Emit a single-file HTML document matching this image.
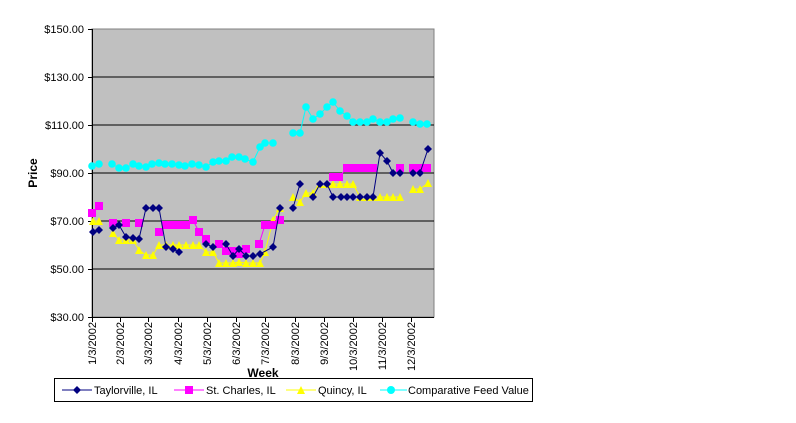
<!DOCTYPE html>
<html><head><meta charset="utf-8"><style>
body{margin:0;background:#fff;}
svg{display:block;font-family:"Liberation Sans",Arial,sans-serif;}
</style></head><body>
<svg id="s" width="796" height="423" xmlns="http://www.w3.org/2000/svg">
<rect x="92" y="29" width="342" height="288" fill="#c0c0c0" stroke="#808080"/>
<g stroke="#000" stroke-width="1">
<line x1="92" y1="77" x2="434" y2="77"/><line x1="92" y1="125" x2="434" y2="125"/>
<line x1="92" y1="173" x2="434" y2="173"/><line x1="92" y1="221" x2="434" y2="221"/>
<line x1="92" y1="269" x2="434" y2="269"/>
<line x1="92.5" y1="29" x2="92.5" y2="318"/><line x1="92" y1="317.5" x2="434" y2="317.5"/>
<line x1="88" y1="29.5" x2="92" y2="29.5"/><line x1="88" y1="77.5" x2="92" y2="77.5"/><line x1="88" y1="125.5" x2="92" y2="125.5"/><line x1="88" y1="173.5" x2="92" y2="173.5"/><line x1="88" y1="221.5" x2="92" y2="221.5"/><line x1="88" y1="269.5" x2="92" y2="269.5"/><line x1="88" y1="317.5" x2="92" y2="317.5"/>
</g>
<g font-size="11" text-anchor="end" fill="#000">
<text x="84" y="33">$150.00</text><text x="84" y="81">$130.00</text><text x="84" y="129">$110.00</text><text x="84" y="177">$90.00</text><text x="84" y="225">$70.00</text><text x="84" y="273">$50.00</text><text x="84" y="321">$30.00</text>
</g>
<text x="37" y="173" font-size="12" font-weight="bold" text-anchor="middle" transform="rotate(-90 37 173)">Price</text>
<text x="263" y="377" font-size="12" font-weight="bold" text-anchor="middle">Week</text>
<g id="xt" font-size="11" text-anchor="end"></g>
<g id="series"></g>
<rect x="54.5" y="378.5" width="478" height="23" fill="#fff" stroke="#000"/>
<g font-size="11">
<line x1="62" y1="390" x2="92" y2="390" stroke="#000080"/><polygon points="77,386 81,390 77,394 73,390" fill="#000080"/>
<text x="94" y="394">Taylorville, IL</text>
<line x1="174" y1="390" x2="204" y2="390" stroke="#ff00ff"/><rect x="185" y="386" width="8" height="8" fill="#ff00ff"/>
<text x="206" y="394">St. Charles, IL</text>
<line x1="286" y1="390" x2="316" y2="390" stroke="#ffff00"/><polygon points="301,386 305,394 297,394" fill="#ffff00"/>
<text x="318" y="394">Quincy, IL</text>
<line x1="380" y1="390" x2="407" y2="390" stroke="#00ffff"/><circle cx="391" cy="390" r="4" fill="#00ffff"/>
<text x="408" y="394">Comparative Feed Value</text>
</g>
</svg>
<script>
var NS="http://www.w3.org/2000/svg",s=document.getElementById("series"),xt=document.getElementById("xt");
var ticks=[92,120,148,178,207,236,265,295,324,353,382,411],labs=["1/3/2002","2/3/2002","3/3/2002","4/3/2002","5/3/2002","6/3/2002","7/3/2002","8/3/2002","9/3/2002","10/3/2002","11/3/2002","12/3/2002"];
ticks.forEach(function(x,i){var l=document.createElementNS(NS,"line");l.setAttribute("x1",x+.5);l.setAttribute("x2",x+.5);l.setAttribute("y1",317);l.setAttribute("y2",322);l.setAttribute("stroke","#000");xt.appendChild(l);
var t=document.createElementNS(NS,"text");t.setAttribute("transform","translate("+(x+4)+",322) rotate(-90)");t.setAttribute("x",0);t.setAttribute("y",0);t.textContent=labs[i];xt.appendChild(t);});
function el(n,a){var e=document.createElementNS(NS,n);for(var k in a)e.setAttribute(k,a[k]);s.appendChild(e);return e;}
function series(segs,col,mk){segs.forEach(function(seg){if(seg.length>1)el("polyline",{points:seg.map(function(p){return p.join(",")}).join(" "),fill:"none",stroke:col,"stroke-width":1});});
segs.forEach(function(seg){seg.forEach(function(p){var x=p[0],y=p[1];
if(mk=="d")el("polygon",{points:(x)+","+(y-4)+" "+(x+4)+","+y+" "+x+","+(y+4)+" "+(x-4)+","+y,fill:col});
else if(mk=="s")el("rect",{x:x-4,y:y-4,width:8,height:8,fill:col});
else if(mk=="t")el("polygon",{points:x+","+(y-4)+" "+(x+4)+","+(y+4)+" "+(x-4)+","+(y+4),fill:col});
else el("circle",{cx:x,cy:y,r:3.8,fill:col});});});}
series([[[93,221],[99,221]],[[113,233],[119,240],[126,240],[133,240],[139,250],[146,255],[153,255],[159,245],[166,245],[173,245],[179,245],[186,245],[193,245],[199,245],[206,252],[213,252],[219,263],[226,263],[233,263],[239,262],[246,263],[253,263],[260,263],[265,252],[273,220],[280,208]],[[293,197],[300,202],[306,193],[313,193],[320,184],[327,184],[333,184],[340,184],[347,184],[353,184],[360,197],[367,197],[373,197],[380,197],[387,197],[393,197],[400,197]],[[413,189],[420,189],[428,183]]],"#ffff00","t");
series([[[92,213],[99,206]],[[113,223]],[[126,223]],[[139,223]],[[159,232],[166,225],[173,225],[179,225],[186,225],[193,220],[199,232],[206,239]],[[219,244],[226,251],[233,251],[239,254],[246,249]],[[259,244],[265,225],[273,225],[280,220]],[[333,177],[339,177],[347,168],[353,168],[360,168],[367,168],[373,168]],[[400,168]],[[413,168],[420,168],[427,168]]],"#ff00ff","s");
series([[[93,232],[99,230]],[[113,228],[119,225],[126,237],[133,238],[139,239],[146,208],[153,208],[159,208],[166,247],[173,249],[179,252]],[[206,244],[213,247]],[[226,244],[233,256],[239,249],[246,256],[253,256],[260,254],[273,247],[280,208]],[[293,208],[300,184]],[[313,197],[320,184],[327,184],[333,197],[341,197],[347,197],[353,197],[360,197],[367,197],[373,197],[380,153],[387,161],[393,173],[400,173]],[[413,173],[420,173],[428,149]]],"#000080","d");
series([[[92,166],[99,164]],[[112,164],[119,168],[126,168],[133,164],[139,166],[146,167],[152,164],[159,163],[165,164],[172,164],[179,165],[185,166],[192,164],[199,165],[206,167],[213,162],[219,161],[226,161],[232,157],[239,157],[245,159],[253,162],[260,147],[265,143],[273,143]],[[293,133],[300,133],[306,107],[313,119],[320,114],[327,107],[333,102],[340,111],[347,116],[353,122],[360,122],[367,122],[373,119],[380,122],[387,122],[393,119],[400,118]],[[413,122],[420,124],[427,124]]],"#00ffff","c");
</script>
</body></html>
